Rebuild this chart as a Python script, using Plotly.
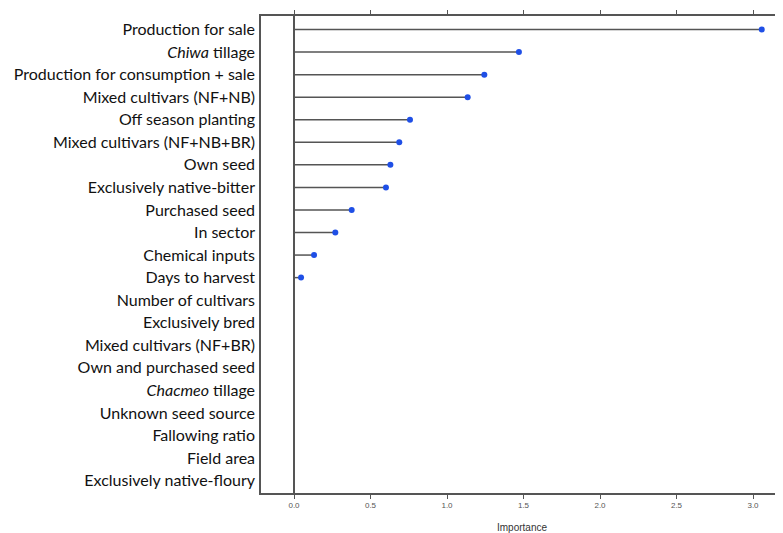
import plotly.graph_objects as go

labels = [
    "Production for sale",
    "<i>Chiwa</i> tillage",
    "Production for consumption + sale",
    "Mixed cultivars (NF+NB)",
    "Off season planting",
    "Mixed cultivars (NF+NB+BR)",
    "Own seed",
    "Exclusively native-bitter",
    "Purchased seed",
    "In sector",
    "Chemical inputs",
    "Days to harvest",
    "Number of cultivars",
    "Exclusively bred",
    "Mixed cultivars (NF+BR)",
    "Own and purchased seed",
    "<i>Chacmeo</i> tillage",
    "Unknown seed source",
    "Fallowing ratio",
    "Field area",
    "Exclusively native-floury",
]
importance = [3.057, 1.47, 1.244, 1.135, 0.758, 0.688, 0.63, 0.601, 0.377, 0.27,
              0.131, 0.046, None, None, None, None, None, None, None, None, None]
x_ticks = [0.0, 0.5, 1.0, 1.5, 2.0, 2.5, 3.0]

fig = go.Figure()
idx = list(range(len(labels)))
for i, v in zip(idx, importance):
    if v is None:
        continue
    fig.add_trace(go.Scatter(x=[0, v], y=[i, i], mode="lines",
                             line=dict(color="#555555", width=1.5),
                             showlegend=False, hoverinfo="skip"))
pts = [(i, v) for i, v in zip(idx, importance) if v is not None]
fig.add_trace(go.Scatter(x=[p[1] for p in pts], y=[p[0] for p in pts], mode="markers",
                         marker=dict(color="#1f4fe6", size=6),
                         showlegend=False))

# page body has an 8px default margin; size the figure so the plot box lands where the reference has it
fig.update_layout(
    width=775, height=525,
    margin=dict(l=253, r=0, t=8, b=40),
    plot_bgcolor="white", paper_bgcolor="white",
    font=dict(family="Lato", color="#222222"),
    xaxis=dict(range=[-0.2157, 3.196], tickvals=x_ticks, tickformat=".1f", automargin=False,
               showline=True, linecolor="#555555", linewidth=1.5, mirror="ticks",
               ticks="outside", ticklen=4, tickcolor="#555555", tickwidth=1.2,
               tickfont=dict(size=8, color="#555555", family="Liberation Sans"),
               showgrid=False, zeroline=True, zerolinecolor="#555555", zerolinewidth=1.5,
               title=dict(text="Importance", font=dict(size=10, color="#333333", family="Liberation Sans"),
                          standoff=15)),
    yaxis=dict(range=[20.55, -0.6], tickvals=idx, ticktext=labels, automargin=False,
               showline=True, linecolor="#555555", linewidth=1.5, mirror=False,
               ticks="", showgrid=False, zeroline=False,
               tickfont=dict(size=16, color="#111111", family="Lato"),
               ticklabelstandoff=1),
)

fig.write_html("out.html")
